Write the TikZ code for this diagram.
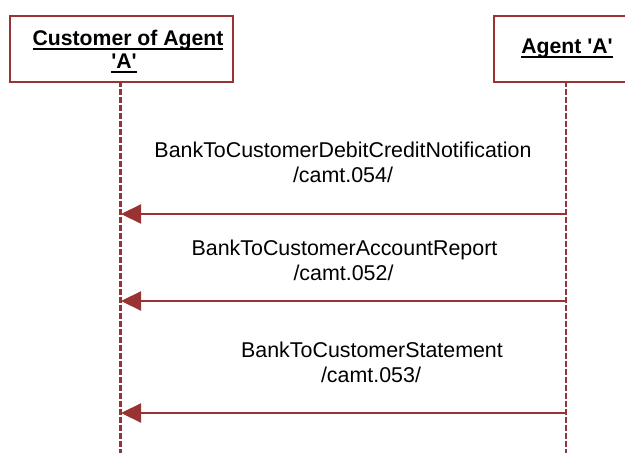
\documentclass[tikz,border=0pt]{standalone}
\usepackage{fontspec}
\setmainfont{Liberation Sans}
\usetikzlibrary{arrows.meta}
\definecolor{seqred}{RGB}{153,51,51}
\newcommand{\ulbox}[1]{\setbox0\hbox{#1}\rlap{\vrule height -2.5pt depth 4.5pt width \wd0}\box0}
\begin{document}
\begin{tikzpicture}[x=1pt,y=-1pt,
  actor/.style={draw=seqred,line width=2.2pt,fill=white,inner sep=0pt,anchor=north west,minimum height=66pt},
  lifeline/.style={draw=seqred,line width=2.4pt,dash pattern=on 6pt off 2pt},
  msg/.style={draw=seqred,line width=2.2pt,-{Triangle[length=20pt,width=19pt]}},
  lbl/.style={font=\fontsize{21.4}{25}\selectfont,inner sep=0pt,anchor=base},
  ttl/.style={font=\bfseries\fontsize{21.2}{23}\selectfont,inner sep=0pt,anchor=base}]
\useasboundingbox (0,0) rectangle (625,453);
% lifeline end points
\coordinate (custtop) at (120.5,81);
\coordinate (custbot) at (120.5,453);
\coordinate (agtop) at (566,81);
\coordinate (agbot) at (566,453);
\draw[lifeline] (custtop) -- (custbot);
\draw[lifeline] (agtop) -- (agbot);
% actor boxes
\node[actor,minimum width=223pt] (cust) at (9,15) {};
\node[actor,minimum width=170pt] (agent) at (493,15) {};
\node[ttl] (custT1) at (128,45) {\ulbox{Customer of Agent}};
\node[ttl] (custT2) at (124,68) {\ulbox{\textquotesingle A\textquotesingle}};
\node[ttl] (agentT) at (567,53) {\ulbox{Agent \textquotesingle A\textquotesingle}};
% messages
\coordinate (r1) at (566,214); \coordinate (l1) at (121,214);
\coordinate (r2) at (566,301); \coordinate (l2) at (121,301);
\coordinate (r3) at (566,413); \coordinate (l3) at (121,413);
\draw[msg] (r1) -- (l1);
\draw[msg] (r2) -- (l2);
\draw[msg] (r3) -- (l3);
\node[lbl] (m1a) at (343,157) {BankToCustomerDebitCreditNotification};
\node[lbl] (m1b) at (343,182) {/camt.054/};
\node[lbl] (m2a) at (344.5,255) {BankToCustomerAccountReport};
\node[lbl] (m2b) at (343.5,280) {/camt.052/};
\node[lbl] (m3a) at (372,357) {BankToCustomerStatement};
\node[lbl] (m3b) at (371,382) {/camt.053/};
\end{tikzpicture}
\end{document}
